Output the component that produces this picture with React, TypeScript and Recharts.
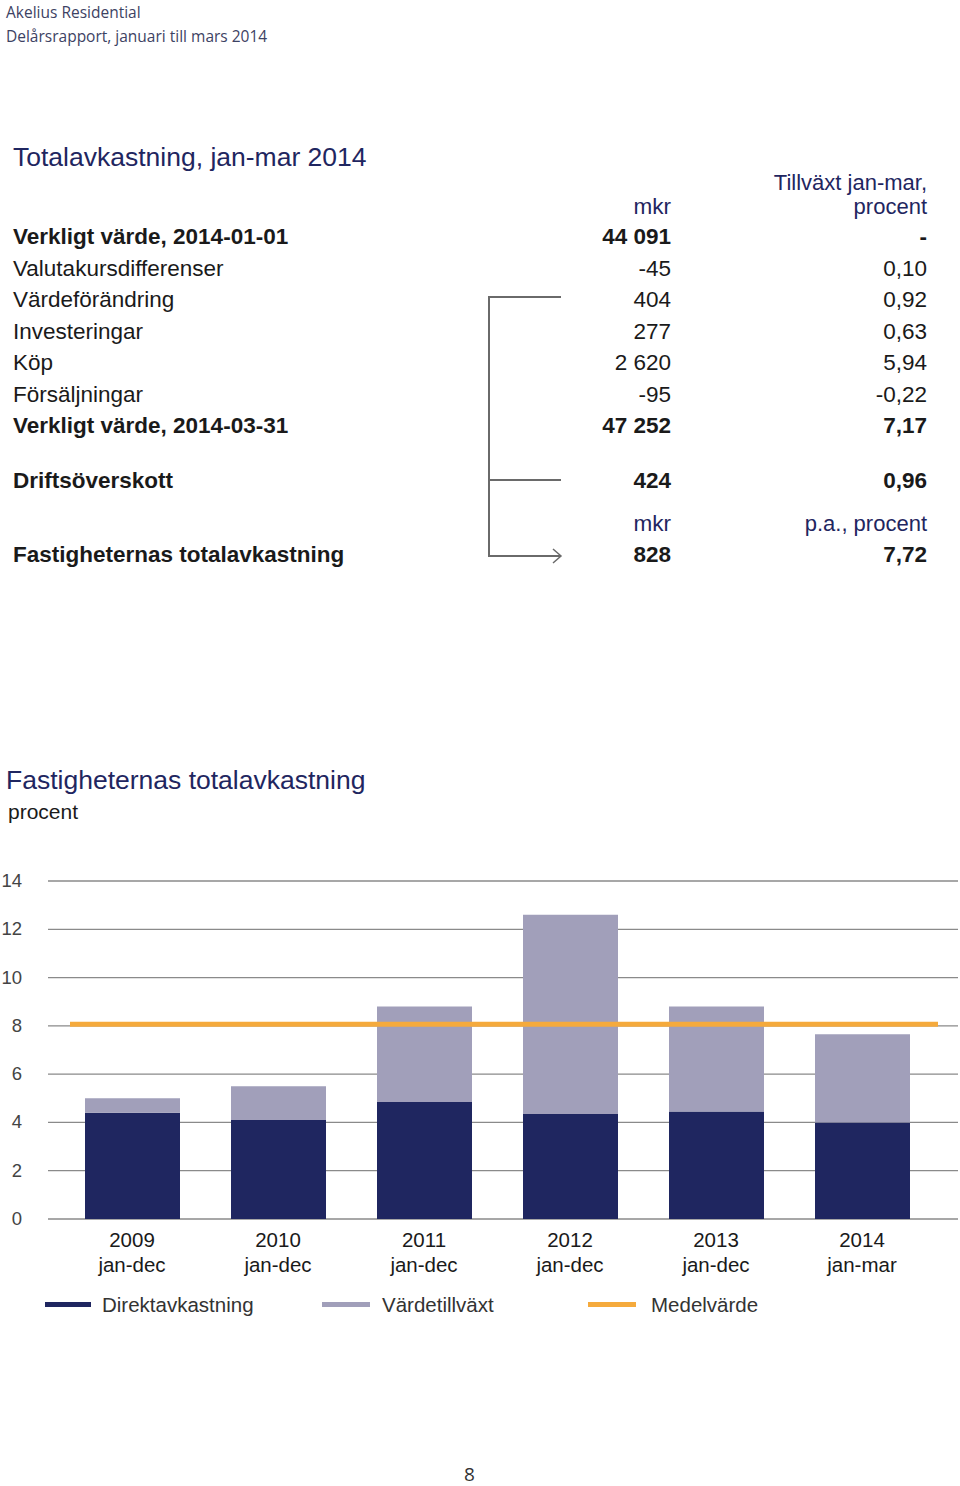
import React from "react";
import { BarChart, Bar, XAxis, YAxis, CartesianGrid, ReferenceLine } from "recharts";

const years = ["2009", "2010", "2011", "2012", "2013", "2014"];
const periods = ["jan-dec", "jan-dec", "jan-dec", "jan-dec", "jan-dec", "jan-mar"];
const direktavkastning = [4.4, 4.1, 4.85, 4.35, 4.45, 4.0];
const vardetillvaxt = [0.6, 1.4, 3.95, 8.25, 4.35, 3.65];
const medelvarde = 8.07;
const yTicks = [0, 2, 4, 6, 8, 10, 12, 14];

const rowLabels = [
  "Verkligt värde, 2014-01-01",
  "Valutakursdifferenser",
  "Värdeförändring",
  "Investeringar",
  "Köp",
  "Försäljningar",
  "Verkligt värde, 2014-03-31",
  "Driftsöverskott",
  "Fastigheternas totalavkastning",
];
const rowMkr = ["44 091", "-45", "404", "277", "2 620", "-95", "47 252", "424", "828"];
const rowPct = ["-", "0,10", "0,92", "0,63", "5,94", "-0,22", "7,17", "0,96", "7,72"];
const rowBold = [true, false, false, false, false, false, true, true, true];
const rowY = [237, 269, 300, 332, 363, 395, 426, 481, 555];

const NAVY = "#1f2660";
const LAV = "#a19fba";
const ORANGE = "#f5aa3c";
const TEXT = "#1a1a1a";
const FONT = "'Liberation Sans', Arial, Helvetica, sans-serif";

const data = years.map((y, i) => ({
  year: y,
  period: periods[i],
  direkt: direktavkastning[i],
  varde: vardetillvaxt[i],
}));

const XTick = (props: any) => {
  const { x, y, payload, index } = props;
  return (
    <g>
      <text x={x} y={y + 20} textAnchor="middle" fontSize={20.5} fill={TEXT} fontFamily={FONT}>
        {payload.value}
      </text>
      <text x={x} y={y + 45} textAnchor="middle" fontSize={20.5} fill={TEXT} fontFamily={FONT}>
        {periods[index]}
      </text>
    </g>
  );
};

const YTick = (props: any) => {
  const { x, y, payload } = props;
  return (
    <text x={x - 18} y={y + 6} textAnchor="end" fontSize={18.5} fill="#444" fontFamily={FONT}>
      {payload.value}
    </text>
  );
};

const MeanLine = (p: any) => (
  <line x1={p.x1 + 22} x2={p.x2 - 20} y1={p.y1} y2={p.y2} stroke={ORANGE} strokeWidth={5} />
);

const abs = (top: number, left: number, extra: React.CSSProperties = {}): React.CSSProperties => ({
  position: "absolute",
  top,
  left,
  whiteSpace: "nowrap",
  ...extra,
});

export default function App() {
  const LH = 26;
  const FS = 22.5;
  return (
    <div style={{ position: "absolute", top: 0, left: 0, width: 960, height: 1486, background: "#fff", fontFamily: FONT, color: TEXT }}>
      <div style={abs(1, 6, { fontFamily: "'Open Sans', 'Noto Sans', sans-serif", fontSize: 15.5, color: "#3d4263", lineHeight: "22px" })}>
        Akelius Residential
      </div>
      <div style={abs(25, 6, { fontFamily: "'Open Sans', 'Noto Sans', sans-serif", fontSize: 15.5, color: "#3d4263", lineHeight: "22px" })}>
        Delårsrapport, januari till mars 2014
      </div>

      <div style={abs(140, 13, { fontSize: 26.5, color: NAVY, lineHeight: "34px" })}>Totalavkastning, jan-mar 2014</div>

      <div style={abs(171, 560, { width: 367, textAlign: "right", fontSize: 22, color: NAVY, lineHeight: "24px" })}>
        Tillväxt jan-mar,
        <br />
        procent
      </div>
      <div style={abs(195, 560, { width: 111, textAlign: "right", fontSize: FS, color: NAVY, lineHeight: "24px" })}>mkr</div>
      <div style={abs(512, 560, { width: 111, textAlign: "right", fontSize: FS, color: NAVY, lineHeight: "24px" })}>mkr</div>
      <div style={abs(512, 700, { width: 227, textAlign: "right", fontSize: 22, color: NAVY, lineHeight: "24px" })}>p.a., procent</div>

      {rowLabels.map((l, i) => (
        <React.Fragment key={l}>
          <div style={abs(rowY[i] - LH / 2, 13, { fontSize: FS, fontWeight: rowBold[i] ? 700 : 400, lineHeight: LH + "px" })}>{l}</div>
          <div style={abs(rowY[i] - LH / 2, 560, { width: 111, textAlign: "right", fontSize: FS, fontWeight: rowBold[i] ? 700 : 400, lineHeight: LH + "px" })}>{rowMkr[i]}</div>
          <div style={abs(rowY[i] - LH / 2, 760, { width: 167, textAlign: "right", fontSize: FS, fontWeight: rowBold[i] ? 700 : 400, lineHeight: LH + "px" })}>{rowPct[i]}</div>
        </React.Fragment>
      ))}

      <svg style={abs(0, 0)} width={960} height={600}>
        <polyline points="561,297 489,297 489,556 561,556" fill="none" stroke="#6a6a6a" strokeWidth={2} />
        <line x1={489} y1={480} x2={561} y2={480} stroke="#6a6a6a" strokeWidth={2} />
        <polyline points="553,549 561,556 553,563" fill="none" stroke="#6a6a6a" strokeWidth={1.5} />
      </svg>

      <div style={abs(763, 6, { fontSize: 26.5, color: NAVY, lineHeight: "34px" })}>Fastigheternas totalavkastning</div>
      <div style={abs(799, 8, { fontSize: 21, color: TEXT, lineHeight: "26px" })}>procent</div>

      <div style={abs(860, 0)}>
        <BarChart width={960} height={440} data={data} margin={{ top: 21, right: 2, bottom: 0, left: 0 }} barCategoryGap={0}>
          <CartesianGrid vertical={false} stroke="#8a8a8a" strokeWidth={1.3} />
          <XAxis
            dataKey="year"
            axisLine={false}
            tickLine={false}
            tick={<XTick />}
            padding={{ left: 11, right: 23 }}
            interval={0}
            height={81}
          />
          <YAxis
            domain={[0, 14]}
            ticks={yTicks}
            axisLine={false}
            tickLine={false}
            width={48}
            tick={<YTick />}
            interval={0}
          />
          <Bar dataKey="direkt" stackId="a" fill={NAVY} barSize={95} isAnimationActive={false} />
          <Bar dataKey="varde" stackId="a" fill={LAV} barSize={95} isAnimationActive={false} />
          <ReferenceLine y={medelvarde} shape={<MeanLine />} />
        </BarChart>
      </div>

      <div style={abs(1302, 45, { width: 46, height: 5, background: NAVY })} />
      <div style={abs(1292, 102, { fontSize: 20.5, lineHeight: "26px", color: "#333" })}>Direktavkastning</div>
      <div style={abs(1302, 322, { width: 48, height: 5, background: LAV })} />
      <div style={abs(1292, 382, { fontSize: 20.5, lineHeight: "26px", color: "#333" })}>Värdetillväxt</div>
      <div style={abs(1302, 588, { width: 48, height: 5, background: ORANGE })} />
      <div style={abs(1292, 651, { fontSize: 20.5, lineHeight: "26px", color: "#333" })}>Medelvärde</div>

      <div style={abs(1464, 464, { fontFamily: "'Open Sans', sans-serif", fontSize: 19, lineHeight: "20px", color: "#333" })}>8</div>
    </div>
  );
}
